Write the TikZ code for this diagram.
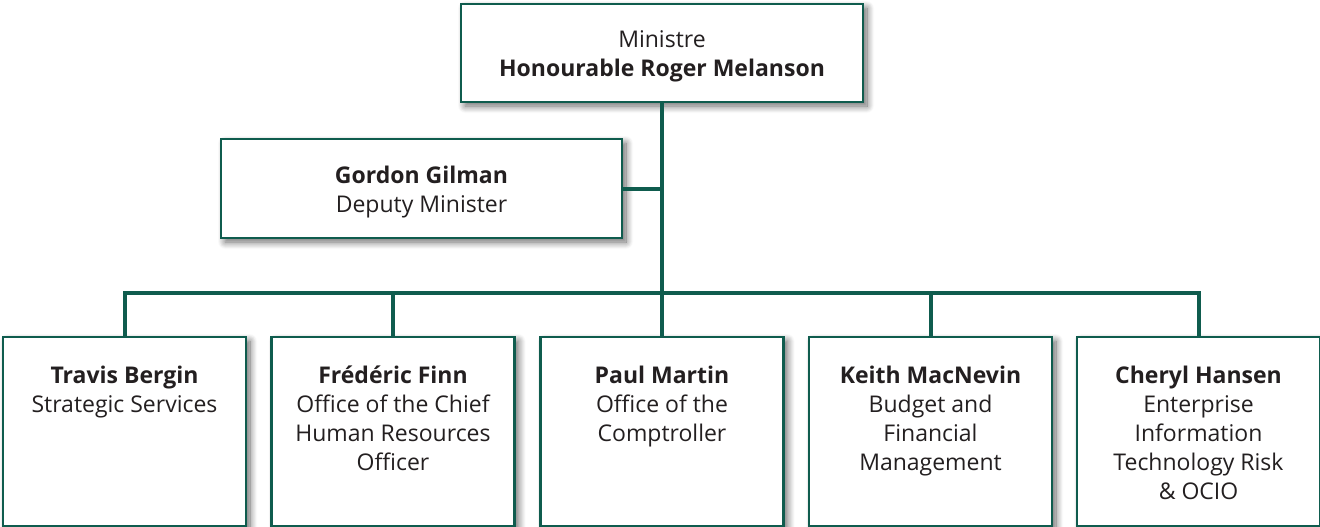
\documentclass[tikz,border=0pt]{standalone}
\usepackage{fontspec}
\setmainfont{Open Sans}
\usetikzlibrary{shadows.blur}
\definecolor{lgreen}{RGB}{15,92,78}
\definecolor{ttext}{RGB}{35,31,32}
\tikzset{
  box/.style={draw=lgreen, line width=2.5pt, fill=white, minimum width=243pt, minimum height=189pt, inner sep=0pt,
    blur shadow={shadow xshift=4pt, shadow yshift=-4pt, shadow blur radius=7pt, shadow blur steps=10, shadow opacity=60}},
  topbox/.style={box, minimum width=402pt, minimum height=98pt},
  dmbox/.style={box, minimum width=401pt, minimum height=99pt},
  conn/.style={draw=lgreen, line width=4pt},
  lbl/.style={anchor=north, inner sep=0pt, align=center, text=ttext, font=\fontsize{23}{29}\selectfont},
}
\begin{document}
\begin{tikzpicture}[x=1pt,y=-1pt]
\useasboundingbox (0,0) rectangle (1320,527);
% junction coordinates
\coordinate (bar) at (662,293);
% nodes
\node[topbox] (min) at (662,53) {};
\node[dmbox] (dm) at (421.5,188.5) {};
\node[box] (b1) at (124.5,431.5) {};
\node[box] (b2) at (393,431.5) {};
\node[box] (b3) at (662,431.5) {};
\node[box] (b4) at (930.5,431.5) {};
\node[box] (b5) at (1198.5,431.5) {};
% connectors
\draw[conn] (min.south) -- (bar);
\draw[conn] (dm.east) -- (dm.east -| min.south);
\draw[conn] (b1.north) -- (b1.north |- bar) -- (b5.north |- bar) -- (b5.north);
\draw[conn] (b2.north) -- (b2.north |- bar);
\draw[conn] (bar) -- (b3.north);
\draw[conn] (b4.north) -- (b4.north |- bar);
% labels
\node[lbl] (tmin) at (662,30) {Ministre\\\textbf{Honourable Roger Melanson}};
\node[lbl] (tdm) at (421.5,166) {\textbf{Gordon Gilman}\\Deputy Minister};
\node[lbl] (t1) at (124.5,366) {\textbf{Travis Bergin}\\Strategic Services};
\node[lbl] (t2) at (393,366) {\textbf{Frédéric Finn}\\Office of the Chief\\Human Resources\\Officer};
\node[lbl] (t3) at (662,366) {\textbf{Paul Martin}\\Office of the\\Comptroller};
\node[lbl] (t4) at (930.5,366) {\textbf{Keith MacNevin}\\Budget and\\Financial\\Management};
\node[lbl] (t5) at (1198.5,366) {\textbf{Cheryl Hansen}\\Enterprise\\Information\\Technology Risk\\\&~OCIO};
\end{tikzpicture}
\end{document}
